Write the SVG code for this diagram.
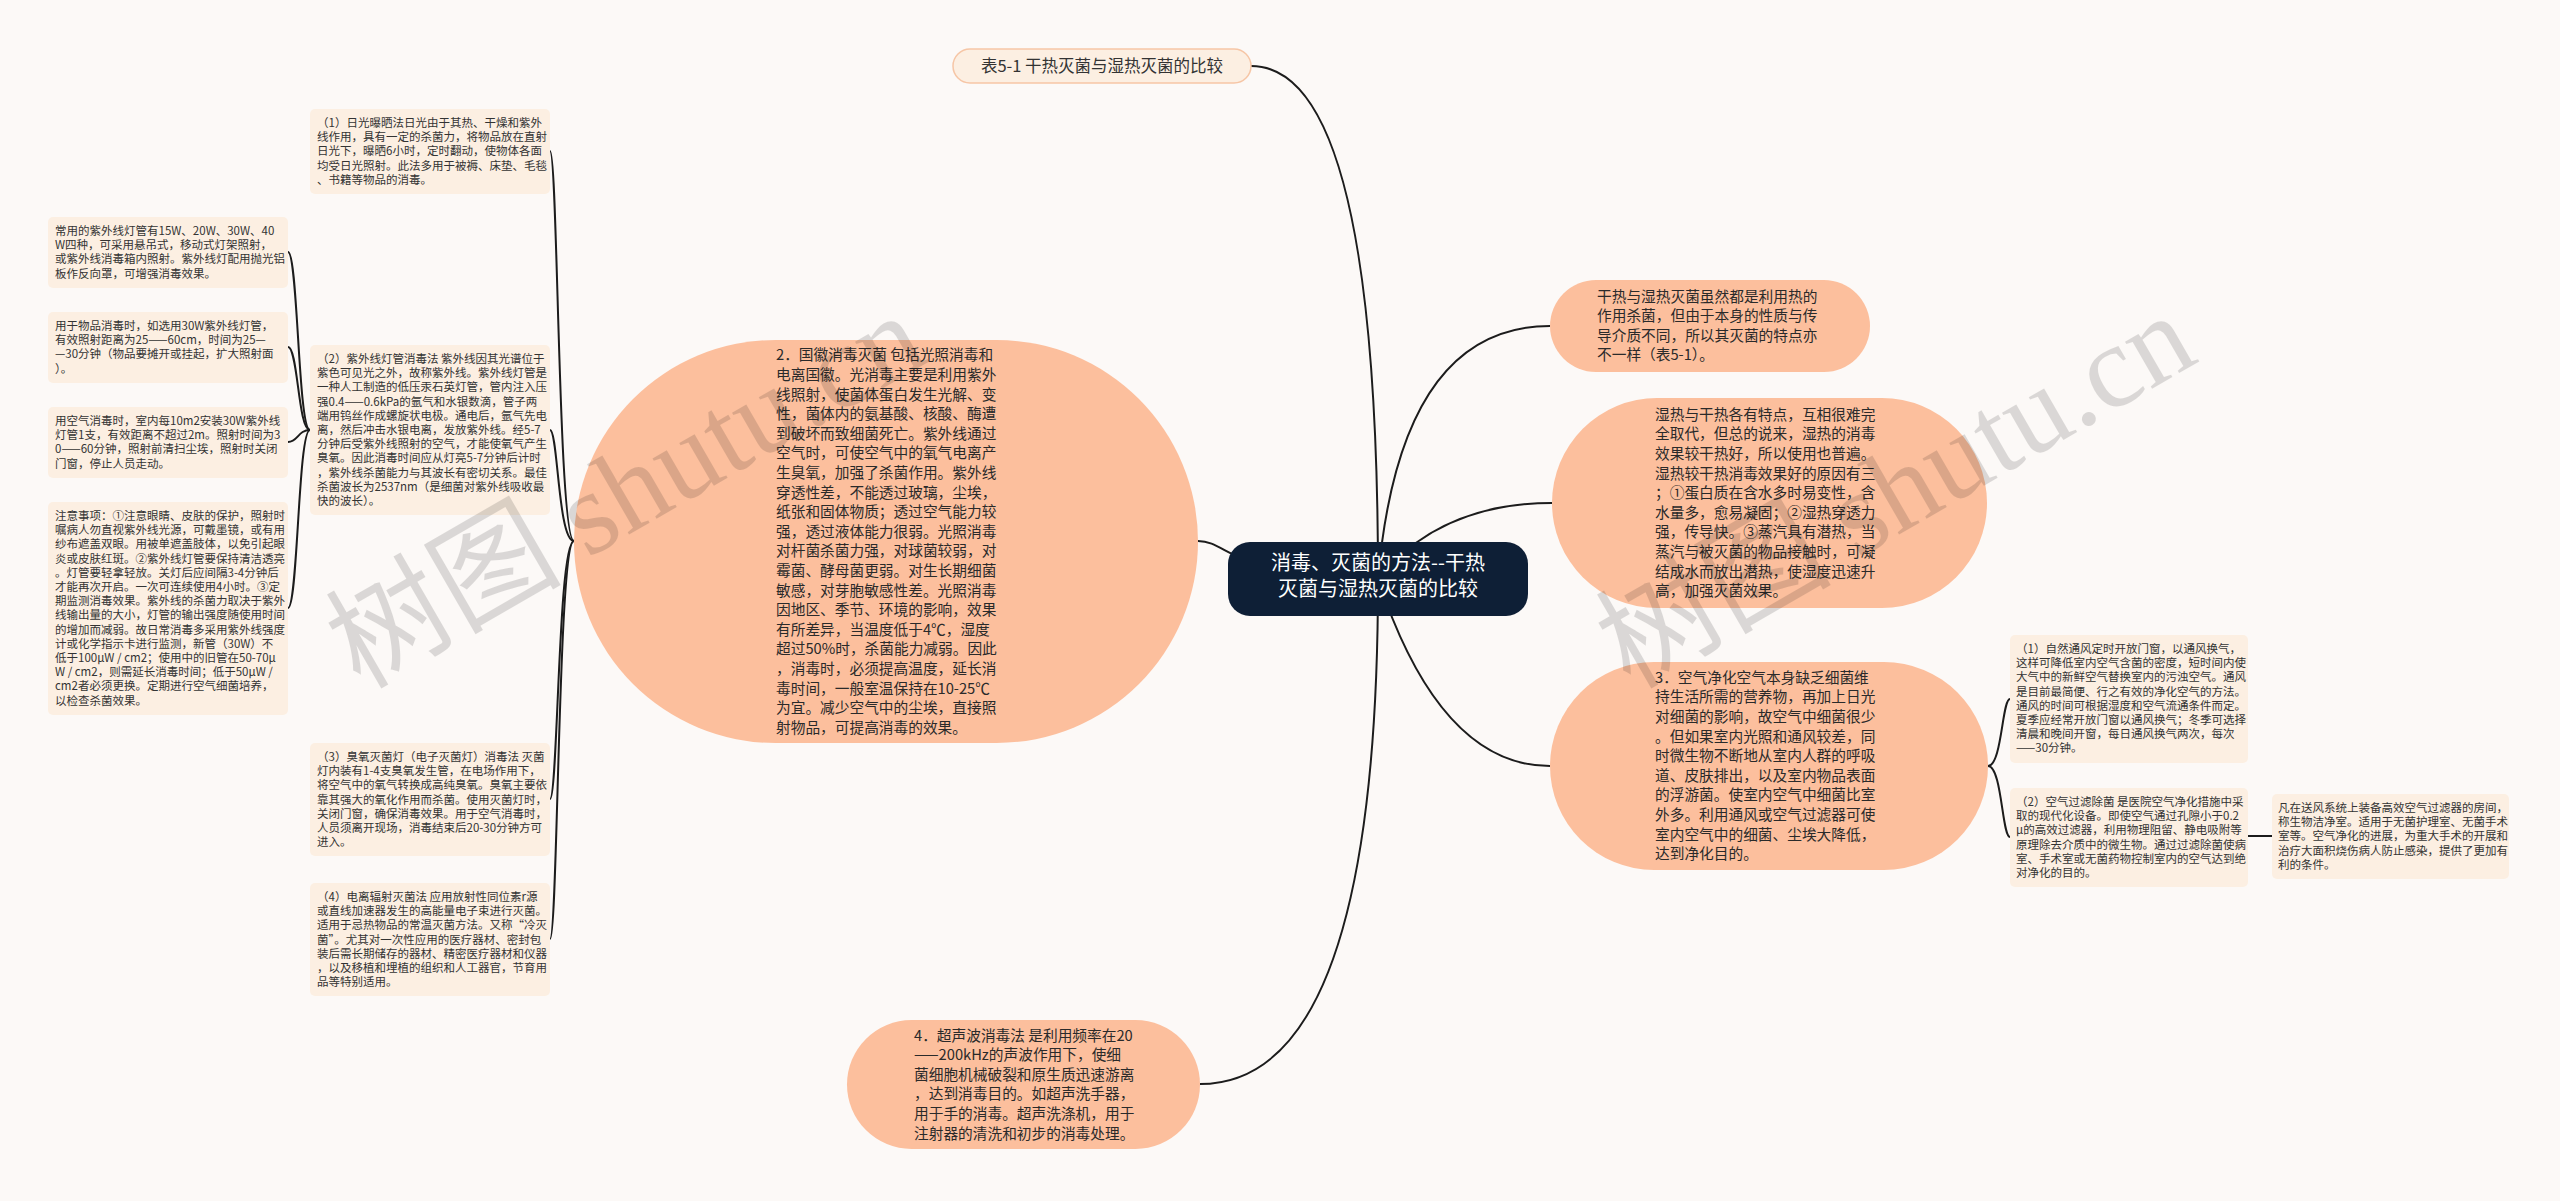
<svg xmlns="http://www.w3.org/2000/svg" width="2560" height="1201" viewBox="0 0 2560 1201">
<style>
.bg{fill:#fcf9f7}
.small rect{fill:#fcefe2}
.small text{font-family:"Noto Sans CJK SC","Noto Sans",sans-serif;font-size:11.5px;fill:#333}
.peach rect{fill:#fcbf9d}
.peach text{font-family:"Noto Sans CJK SC","Noto Sans",sans-serif;font-size:14.7px;fill:#2a2a2a}
.conn path{fill:none;stroke:#1c1c1c;stroke-width:2}
.wm{font-family:"Noto Sans CJK SC","Liberation Serif",serif;font-size:118px;fill:#000;opacity:0.13}
</style>
<rect class="bg" x="0" y="0" width="2560" height="1201"/>

<g class="conn" id="connectors">
<path d="M1378 579 Q1378 66 1251 66"/>
<path d="M1378 579 C1230 579 1230 541 1198 541"/>
<path d="M1378 579 Q1378 1084 1200 1084"/>
<path d="M1378 579 Q1400 326 1550 326"/>
<path d="M1378 579 Q1440 503 1552 503"/>
<path d="M1378 579 Q1440 766 1550 766"/>
<path d="M574 541 C558 541 558 151 550 151"/>
<path d="M574 541 C558 541 558 430 550 430"/>
<path d="M574 541 C558 541 558 799 550 799"/>
<path d="M574 541 C558 541 558 939 550 939"/>
<path d="M310 430 C298 430 298 252 288 252"/>
<path d="M310 430 C298 430 298 347 288 347"/>
<path d="M310 430 C298 430 298 442 288 442"/>
<path d="M310 430 C298 430 298 608 288 608"/>
<path d="M1988 766 C2002 766 2002 699 2010 699"/>
<path d="M1988 766 C2002 766 2002 837 2010 837"/>
<path d="M2248 836 L2272 836"/>
</g>

<g id="root">
<rect x="1228" y="542" width="300" height="74" rx="22" fill="#0e1f36"/>
<text font-family="Noto Sans CJK SC,sans-serif" font-size="20" fill="#fff" text-anchor="middle"><tspan x="1378" y="570">消毒、灭菌的方法--干热</tspan><tspan x="1378" y="596">灭菌与湿热灭菌的比较</tspan></text>
</g>

<g id="table-node">
<rect x="953" y="49" width="298" height="34" rx="17" fill="#fcefe2" stroke="#f6c6a6" stroke-width="1.5"/>
<text x="1102" y="72" font-family="Noto Sans CJK SC,sans-serif" font-size="16.5" fill="#333" text-anchor="middle">表5-1 干热灭菌与湿热灭菌的比较</text>
</g>

<g id="node-big" class="peach">
<rect x="574" y="340" width="624" height="403" rx="201.5"/>
<text><tspan x="776" y="360.3">2．国徽消毒灭菌 包括光照消毒和</tspan><tspan x="776" y="379.9">电离国徽。光消毒主要是利用紫外</tspan><tspan x="776" y="399.5">线照射，使菌体蛋白发生光解、变</tspan><tspan x="776" y="419.1">性，菌体内的氨基酸、核酸、酶遭</tspan><tspan x="776" y="438.7">到破坏而致细菌死亡。紫外线通过</tspan><tspan x="776" y="458.3">空气时，可使空气中的氧气电离产</tspan><tspan x="776" y="477.9">生臭氧，加强了杀菌作用。紫外线</tspan><tspan x="776" y="497.5">穿透性差，不能透过玻璃，尘埃，</tspan><tspan x="776" y="517.1">纸张和固体物质；透过空气能力较</tspan><tspan x="776" y="536.7">强，透过液体能力很弱。光照消毒</tspan><tspan x="776" y="556.3">对杆菌杀菌力强，对球菌较弱，对</tspan><tspan x="776" y="575.9">霉菌、酵母菌更弱。对生长期细菌</tspan><tspan x="776" y="595.5">敏感，对芽胞敏感性差。光照消毒</tspan><tspan x="776" y="615.1">因地区、季节、环境的影响，效果</tspan><tspan x="776" y="634.7">有所差异，当温度低于4℃，湿度</tspan><tspan x="776" y="654.3">超过50%时，杀菌能力减弱。因此</tspan><tspan x="776" y="673.9">，消毒时，必须提高温度，延长消</tspan><tspan x="776" y="693.5">毒时间，一般室温保持在10-25℃</tspan><tspan x="776" y="713.1">为宜。减少空气中的尘埃，直接照</tspan><tspan x="776" y="732.7">射物品，可提高消毒的效果。</tspan></text>
</g>

<g id="node-ultrasound" class="peach">
<rect x="847" y="1020" width="353" height="129" rx="64.5"/>
<text><tspan x="914" y="1040.5">4．超声波消毒法 是利用频率在20</tspan><tspan x="914" y="1060.1">——200kHz的声波作用下，使细</tspan><tspan x="914" y="1079.7">菌细胞机械破裂和原生质迅速游离</tspan><tspan x="914" y="1099.3">，达到消毒目的。如超声洗手器，</tspan><tspan x="914" y="1118.9">用于手的消毒。超声洗涤机，用于</tspan><tspan x="914" y="1138.5">注射器的清洗和初步的消毒处理。</tspan></text>
</g>

<g id="node-dryheat" class="peach">
<rect x="1550" y="280" width="320" height="92" rx="46"/>
<text><tspan x="1597" y="301.6">干热与湿热灭菌虽然都是利用热的</tspan><tspan x="1597" y="321.2">作用杀菌，但由于本身的性质与传</tspan><tspan x="1597" y="340.8">导介质不同，所以其灭菌的特点亦</tspan><tspan x="1597" y="360.4">不一样（表5-1）。</tspan></text>
</g>

<g id="node-moistheat" class="peach">
<rect x="1552" y="398" width="435" height="210" rx="105"/>
<text><tspan x="1655" y="419.8">湿热与干热各有特点，互相很难完</tspan><tspan x="1655" y="439.4">全取代，但总的说来，湿热的消毒</tspan><tspan x="1655" y="459">效果较干热好，所以使用也普遍。</tspan><tspan x="1655" y="478.6">湿热较干热消毒效果好的原因有三</tspan><tspan x="1655" y="498.2">；①蛋白质在含水多时易变性，含</tspan><tspan x="1655" y="517.8">水量多，愈易凝固；②湿热穿透力</tspan><tspan x="1655" y="537.4">强，传导快。③蒸汽具有潜热，当</tspan><tspan x="1655" y="557">蒸汽与被灭菌的物品接触时，可凝</tspan><tspan x="1655" y="576.6">结成水而放出潜热，使湿度迅速升</tspan><tspan x="1655" y="596.2">高，加强灭菌效果。</tspan></text>
</g>

<g id="node-air" class="peach">
<rect x="1550" y="662" width="438" height="208" rx="104"/>
<text><tspan x="1655" y="682.8">3．空气净化空气本身缺乏细菌维</tspan><tspan x="1655" y="702.4">持生活所需的营养物，再加上日光</tspan><tspan x="1655" y="722">对细菌的影响，故空气中细菌很少</tspan><tspan x="1655" y="741.6">。但如果室内光照和通风较差，同</tspan><tspan x="1655" y="761.2">时微生物不断地从室内人群的呼吸</tspan><tspan x="1655" y="780.8">道、皮肤排出，以及室内物品表面</tspan><tspan x="1655" y="800.4">的浮游菌。使室内空气中细菌比室</tspan><tspan x="1655" y="820">外多。利用通风或空气过滤器可使</tspan><tspan x="1655" y="839.6">室内空气中的细菌、尘埃大降低，</tspan><tspan x="1655" y="859.2">达到净化目的。</tspan></text>
</g>

<g id="node-a1" class="small">
<rect x="310" y="109" width="240" height="85" rx="5"/>
<text><tspan x="317" y="127">（1）日光曝晒法日光由于其热、干燥和紫外</tspan><tspan x="317" y="141.2">线作用，具有一定的杀菌力，将物品放在直射</tspan><tspan x="317" y="155.4">日光下，曝晒6小时，定时翻动，使物体各面</tspan><tspan x="317" y="169.6">均受日光照射。此法多用于被褥、床垫、毛毯</tspan><tspan x="317" y="183.8">、书籍等物品的消毒。</tspan></text>
</g>

<g id="node-a2" class="small">
<rect x="310" y="345" width="240" height="170" rx="5"/>
<text><tspan x="317" y="363">（2）紫外线灯管消毒法 紫外线因其光谱位于</tspan><tspan x="317" y="377.2">紫色可见光之外，故称紫外线。紫外线灯管是</tspan><tspan x="317" y="391.4">一种人工制造的低压汞石英灯管，管内注入压</tspan><tspan x="317" y="405.6">强0.4——0.6kPa的氩气和水银数滴，管子两</tspan><tspan x="317" y="419.8">端用钨丝作成螺旋状电极。通电后，氩气先电</tspan><tspan x="317" y="434">离，然后冲击水银电离，发放紫外线。经5-7</tspan><tspan x="317" y="448.2">分钟后受紫外线照射的空气，才能使氧气产生</tspan><tspan x="317" y="462.4">臭氧。因此消毒时间应从灯亮5-7分钟后计时</tspan><tspan x="317" y="476.6">，紫外线杀菌能力与其波长有密切关系。最佳</tspan><tspan x="317" y="490.8">杀菌波长为2537nm（是细菌对紫外线吸收最</tspan><tspan x="317" y="505">快的波长）。</tspan></text>
</g>

<g id="node-a3" class="small">
<rect x="310" y="743" width="240" height="113" rx="5"/>
<text><tspan x="317" y="761">（3）臭氧灭菌灯（电子灭菌灯）消毒法 灭菌</tspan><tspan x="317" y="775.2">灯内装有1-4支臭氧发生管，在电场作用下，</tspan><tspan x="317" y="789.4">将空气中的氧气转换成高纯臭氧。臭氧主要依</tspan><tspan x="317" y="803.6">靠其强大的氧化作用而杀菌。使用灭菌灯时，</tspan><tspan x="317" y="817.8">关闭门窗，确保消毒效果。用于空气消毒时，</tspan><tspan x="317" y="832">人员须离开现场，消毒结束后20-30分钟方可</tspan><tspan x="317" y="846.2">进入。</tspan></text>
</g>

<g id="node-a4" class="small">
<rect x="310" y="883" width="240" height="113" rx="5"/>
<text><tspan x="317" y="901">（4）电离辐射灭菌法 应用放射性同位素r源</tspan><tspan x="317" y="915.2">或直线加速器发生的高能量电子束进行灭菌。</tspan><tspan x="317" y="929.4">适用于忌热物品的常温灭菌方法。又称“冷灭</tspan><tspan x="317" y="943.6">菌”。尤其对一次性应用的医疗器材、密封包</tspan><tspan x="317" y="957.8">装后需长期储存的器材、精密医疗器材和仪器</tspan><tspan x="317" y="972">，以及移植和埋植的组织和人工器官，节育用</tspan><tspan x="317" y="986.2">品等特别适用。</tspan></text>
</g>

<g id="node-b1" class="small">
<rect x="48" y="217" width="240" height="71" rx="5"/>
<text><tspan x="55" y="235">常用的紫外线灯管有15W、20W、30W、40</tspan><tspan x="55" y="249.2">W四种，可采用悬吊式，移动式灯架照射，</tspan><tspan x="55" y="263.4">或紫外线消毒箱内照射。紫外线灯配用抛光铝</tspan><tspan x="55" y="277.6">板作反向罩，可增强消毒效果。</tspan></text>
</g>

<g id="node-b2" class="small">
<rect x="48" y="312" width="240" height="71" rx="5"/>
<text><tspan x="55" y="330">用于物品消毒时，如选用30W紫外线灯管，</tspan><tspan x="55" y="344.2">有效照射距离为25——60cm，时间为25—</tspan><tspan x="55" y="358.4">—30分钟（物品要摊开或挂起，扩大照射面</tspan><tspan x="55" y="372.6">）。</tspan></text>
</g>

<g id="node-b3" class="small">
<rect x="48" y="407" width="240" height="71" rx="5"/>
<text><tspan x="55" y="425">用空气消毒时，室内每10m2安装30W紫外线</tspan><tspan x="55" y="439.2">灯管1支，有效距离不超过2m。照射时间为3</tspan><tspan x="55" y="453.4">0——60分钟，照射前清扫尘埃，照射时关闭</tspan><tspan x="55" y="467.6">门窗，停止人员走动。</tspan></text>
</g>

<g id="node-b4" class="small">
<rect x="48" y="502" width="240" height="213" rx="5"/>
<text><tspan x="55" y="520">注意事项：①注意眼睛、皮肤的保护，照射时</tspan><tspan x="55" y="534.2">嘱病人勿直视紫外线光源，可戴墨镜，或有用</tspan><tspan x="55" y="548.4">纱布遮盖双眼。用被单遮盖肢体，以免引起眼</tspan><tspan x="55" y="562.6">炎或皮肤红斑。②紫外线灯管要保持清洁透亮</tspan><tspan x="55" y="576.8">。灯管要轻拿轻放。关灯后应间隔3-4分钟后</tspan><tspan x="55" y="591">才能再次开启。一次可连续使用4小时。③定</tspan><tspan x="55" y="605.2">期监测消毒效果。紫外线的杀菌力取决于紫外</tspan><tspan x="55" y="619.4">线输出量的大小，灯管的输出强度随使用时间</tspan><tspan x="55" y="633.6">的增加而减弱。故日常消毒多采用紫外线强度</tspan><tspan x="55" y="647.8">计或化学指示卡进行监测，新管（30W）不</tspan><tspan x="55" y="662">低于100μW / cm2；使用中的旧管在50-70μ</tspan><tspan x="55" y="676.2">W / cm2，则需延长消毒时间；低于50μW /</tspan><tspan x="55" y="690.4">cm2者必须更换。定期进行空气细菌培养，</tspan><tspan x="55" y="704.6">以检查杀菌效果。</tspan></text>
</g>

<g id="node-c1" class="small">
<rect x="2010" y="635" width="238" height="128" rx="5"/>
<text><tspan x="2016" y="653">（1）自然通风定时开放门窗，以通风换气，</tspan><tspan x="2016" y="667.2">这样可降低室内空气含菌的密度，短时间内使</tspan><tspan x="2016" y="681.4">大气中的新鲜空气替换室内的污浊空气。通风</tspan><tspan x="2016" y="695.6">是目前最简便、行之有效的净化空气的方法。</tspan><tspan x="2016" y="709.8">通风的时间可根据湿度和空气流通条件而定。</tspan><tspan x="2016" y="724">夏季应经常开放门窗以通风换气；冬季可选择</tspan><tspan x="2016" y="738.2">清晨和晚间开窗，每日通风换气两次，每次</tspan><tspan x="2016" y="752.4">——30分钟。</tspan></text>
</g>

<g id="node-c2" class="small">
<rect x="2010" y="788" width="238" height="99" rx="5"/>
<text><tspan x="2016" y="806">（2）空气过滤除菌 是医院空气净化措施中采</tspan><tspan x="2016" y="820.2">取的现代化设备。即使空气通过孔隙小于0.2</tspan><tspan x="2016" y="834.4">μ的高效过滤器，利用物理阻留、静电吸附等</tspan><tspan x="2016" y="848.6">原理除去介质中的微生物。通过过滤除菌使病</tspan><tspan x="2016" y="862.8">室、手术室或无菌药物控制室内的空气达到绝</tspan><tspan x="2016" y="877">对净化的目的。</tspan></text>
</g>

<g id="node-d" class="small">
<rect x="2272" y="794" width="237" height="85" rx="5"/>
<text><tspan x="2278" y="812">凡在送风系统上装备高效空气过滤器的房间，</tspan><tspan x="2278" y="826.2">称生物洁净室。适用于无菌护理室、无菌手术</tspan><tspan x="2278" y="840.4">室等。空气净化的进展，为重大手术的开展和</tspan><tspan x="2278" y="854.6">治疗大面积烧伤病人防止感染，提供了更加有</tspan><tspan x="2278" y="868.8">利的条件。</tspan></text>
</g>

<g id="watermarks">
<text class="wm" transform="translate(360 690) rotate(-30)">树图 <tspan font-family="Liberation Serif,serif">shutu.cn</tspan></text>
<text class="wm" transform="translate(1630 690) rotate(-30)">树图 <tspan font-family="Liberation Serif,serif">shutu.cn</tspan></text>
</g>
</svg>
